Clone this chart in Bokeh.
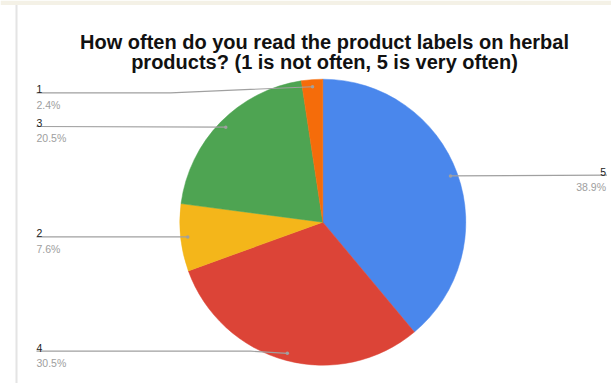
import math
from bokeh.plotting import figure
from bokeh.models import Range1d, ColumnDataSource
from bokeh.core.properties import value
from bokeh.embed import file_html
from bokeh.resources import INLINE

# ---- data ----
categories = ["5", "4", "2", "3", "1"]
percents = [38.9, 30.5, 7.6, 20.5, 2.4]
colors = ["#4a87ec", "#dc4437", "#f4b61a", "#4ea452", "#f56c0a"]
title_lines = ["How often do you read the product labels on herbal",
               "products? (1 is not often, 5 is very often)"]

# ---- layout (picture pixel coordinates) ----
W, H = 611, 383
def dx(X):
    return X
def dy(Y):
    return H - Y

CX, CY, R = dx(322.3), dy(221.7), 143.0
label_line_y = {"1": 92.3, "3": 126.0, "2": 236.3, "4": 350.7, "5": 174.7}
label_side = {"1": "left", "3": "left", "2": "left", "4": "left", "5": "right"}
label_elbow = {"1": 170.0, "3": None, "2": None, "4": 250.0, "5": None}
LEFT_X, RIGHT_X = 36.0, 606.5

p = figure(width=W, height=H, output_backend="svg", toolbar_location=None,
           x_range=Range1d(0, W), y_range=Range1d(0, H), min_border=0)
p.axis.visible = False
p.grid.visible = False
p.outline_line_color = None
p.background_fill_color = "white"
p.border_fill_color = "white"

# top beige band and left border strip
p.quad(left=[0], right=[W], bottom=[dy(4.5)], top=[H], fill_color="#f4f1e6",
       line_color=None)
p.line([dx(16), dx(16)], [0, dy(4.5)], line_color="#e4e4e4", line_width=2)

# wedges, clockwise from 12 o'clock
total = sum(percents)
starts, ends, mids = [], [], []
c = 0.0
for v in percents:
    c0, c1 = c / total, (c + v) / total
    starts.append(math.radians(90 - 360 * c1))
    ends.append(math.radians(90 - 360 * c0))
    mids.append(math.radians(90 - 360 * (c0 + c1) / 2))
    c += v
src = ColumnDataSource(dict(x=[CX] * len(percents), y=[CY] * len(percents),
                            s=starts, e=ends, color=colors))
p.wedge(x="x", y="y", radius=R, start_angle="s", end_angle="e",
        fill_color="color", line_color="color",
        line_width=0.5, source=src)

# leader lines and labels
dot_x, dot_y = [], []
num_x, num_y, num_t, num_align = [], [], [], []
pct_x, pct_y, pct_t = [], [], []
for cat, v, m in zip(categories, percents, mids):
    px = CX + 0.95 * R * math.cos(m)
    py = CY + 0.95 * R * math.sin(m)
    dot_x.append(px)
    dot_y.append(py)
    ly = dy(label_line_y[cat])
    if label_side[cat] == "left":
        sx = dx(LEFT_X)
        align = "left"
    else:
        sx = dx(RIGHT_X)
        align = "right"
    xs = [sx]
    ys = [ly]
    if label_elbow[cat] is not None:
        xs.append(dx(label_elbow[cat]))
        ys.append(ly)
    xs.append(px)
    ys.append(py)
    p.line(xs, ys, line_color="#a0a0a0", line_width=1.2)
    tx = sx if align == "left" else sx - 1
    num_x.append(tx); num_y.append(ly + 3.7); num_t.append(cat); num_align.append(align)
    pct_x.append(tx); pct_y.append(ly - 11.8); pct_t.append(f"{v}%")

p.scatter(dot_x, dot_y, size=3.5, fill_color="#a0a0a0", line_color=None)

p.text(x=num_x, y=num_y, text=num_t, text_align=num_align,
       text_baseline="alphabetic", text_font=value("Liberation Sans"),
       text_font_size="10.5px", text_color="#222222")
p.text(x=pct_x, y=pct_y, text=pct_t, text_align=num_align,
       text_baseline="alphabetic", text_font=value("Liberation Sans"),
       text_font_size="10.5px", text_color="#9e9e9e")

# title
p.text(x=[dx(324), dx(324)], y=[dy(41), dy(61.7)], text=title_lines,
       text_align="center", text_baseline="alphabetic",
       text_font=value("Liberation Sans"), text_font_style="bold",
       text_font_size="20px", text_color="#111111")

open("out.html", "w").write(file_html(p, INLINE))
